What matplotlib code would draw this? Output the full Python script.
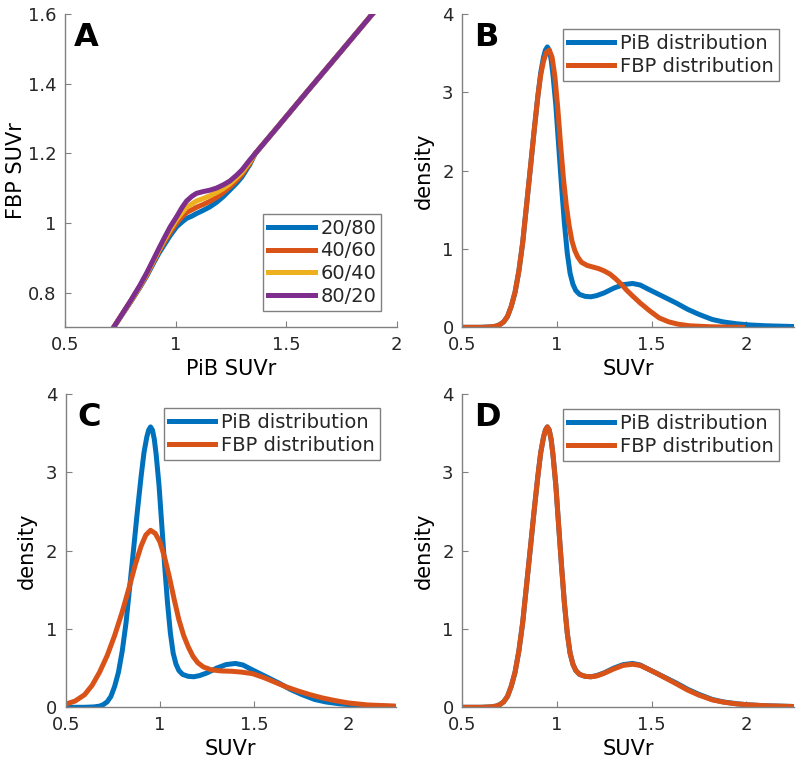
import numpy as np
import matplotlib
matplotlib.use("Agg")
import matplotlib.pyplot as plt

# --- Panel A: PiB -> FBP mapping curves for each mixing ratio ---
map_x = [0.72, 0.76, 0.80, 0.84, 0.87, 0.90, 0.925, 0.95, 0.975, 1.005, 1.03, 1.05, 1.075, 1.095,
         1.125, 1.155, 1.185, 1.215, 1.245, 1.276, 1.30, 1.336, 1.36, 1.45, 1.60, 1.75, 1.89]
map_20_80 = [0.70, 0.738, 0.776, 0.816, 0.848, 0.884, 0.913, 0.938, 0.963, 0.989, 1.003, 1.013,
             1.020, 1.027, 1.036, 1.046, 1.059, 1.075, 1.094, 1.114, 1.132, 1.168, 1.199,
             1.267, 1.381, 1.494, 1.60]
map_40_60 = [0.70, 0.739, 0.777, 0.818, 0.851, 0.888, 0.919, 0.946, 0.972, 1.000, 1.018, 1.030,
             1.038, 1.045, 1.053, 1.062, 1.073, 1.087, 1.103, 1.122, 1.139, 1.172, 1.199,
             1.267, 1.381, 1.494, 1.60]
map_60_40 = [0.70, 0.740, 0.778, 0.820, 0.854, 0.891, 0.923, 0.952, 0.980, 1.010, 1.030, 1.045,
             1.055, 1.063, 1.070, 1.078, 1.087, 1.098, 1.112, 1.130, 1.145, 1.176, 1.199,
             1.267, 1.381, 1.494, 1.60]
map_80_20 = [0.70, 0.740, 0.780, 0.822, 0.857, 0.895, 0.927, 0.958, 0.988, 1.018, 1.045, 1.063,
             1.077, 1.085, 1.090, 1.094, 1.100, 1.109, 1.120, 1.137, 1.152, 1.181, 1.199,
             1.267, 1.381, 1.494, 1.60]
map_labels = ['20/80', '40/60', '60/40', '80/20']

# --- Density curves ---
pib_x = [0.5, 0.6, 0.65, 0.68, 0.70, 0.72, 0.74, 0.76, 0.78, 0.80, 0.82, 0.84, 0.86, 0.88, 0.90,
         0.915, 0.93, 0.94, 0.95, 0.96, 0.97, 0.98, 0.995, 1.01, 1.025, 1.04, 1.055, 1.07, 1.085,
         1.10, 1.12, 1.15, 1.18, 1.21, 1.25, 1.30, 1.35, 1.40, 1.44, 1.48, 1.53, 1.58, 1.63,
         1.69, 1.75, 1.82, 1.88, 1.95, 2.02, 2.10, 2.25]
pib_y = [0.0, 0.0, 0.005, 0.015, 0.035, 0.07, 0.14, 0.27, 0.45, 0.72, 1.08, 1.55, 2.02, 2.50, 2.95,
         3.25, 3.45, 3.54, 3.58, 3.54, 3.42, 3.22, 2.83, 2.31, 1.80, 1.33, 0.95, 0.69, 0.55,
         0.47, 0.42, 0.395, 0.39, 0.405, 0.44, 0.50, 0.545, 0.56, 0.54, 0.49, 0.43, 0.37, 0.31,
         0.23, 0.165, 0.10, 0.068, 0.045, 0.03, 0.02, 0.01]

fbp_b_x = [0.5, 0.6, 0.65, 0.68, 0.70, 0.72, 0.74, 0.76, 0.78, 0.80, 0.82, 0.84, 0.86, 0.88, 0.90,
           0.915, 0.93, 0.945, 0.96, 0.975, 0.99, 1.005, 1.02, 1.035, 1.05, 1.065, 1.08, 1.095,
           1.11, 1.13, 1.16, 1.19, 1.22, 1.25, 1.28, 1.31, 1.34, 1.37, 1.40, 1.44, 1.49, 1.54,
           1.59, 1.64, 1.70, 1.80, 1.90, 1.98]
fbp_b_y = [0.0, 0.0, 0.005, 0.015, 0.035, 0.07, 0.14, 0.27, 0.45, 0.72, 1.08, 1.55, 2.02, 2.50, 2.95,
           3.22, 3.40, 3.51, 3.54, 3.45, 3.20, 2.80, 2.33, 1.90, 1.56, 1.30, 1.10, 0.98,
           0.90, 0.83, 0.79, 0.77, 0.75, 0.72, 0.68, 0.62, 0.55, 0.47, 0.40, 0.31, 0.21, 0.12,
           0.07, 0.04, 0.02, 0.008, 0.003, 0.0]

fbp_c_x = [0.5, 0.55, 0.60, 0.64, 0.68, 0.72, 0.76, 0.80, 0.84, 0.87, 0.90, 0.925, 0.95, 0.975,
           1.0, 1.025, 1.05, 1.075, 1.10, 1.125, 1.15, 1.175, 1.20, 1.23, 1.27, 1.32, 1.38, 1.43,
           1.49, 1.55, 1.61, 1.67, 1.73, 1.79, 1.86, 1.93, 2.0, 2.1, 2.25]
fbp_c_y = [0.04, 0.08, 0.16, 0.28, 0.45, 0.66, 0.92, 1.22, 1.56, 1.83, 2.06, 2.20, 2.26, 2.22,
           2.11, 1.91, 1.66, 1.38, 1.12, 0.92, 0.77, 0.65, 0.57, 0.515, 0.48, 0.465, 0.46, 0.45,
           0.43, 0.38, 0.32, 0.26, 0.21, 0.165, 0.12, 0.085, 0.055, 0.03, 0.015]

fbp_d_x = pib_x
fbp_d_y = [0.0, 0.0, 0.005, 0.015, 0.035, 0.07, 0.14, 0.27, 0.45, 0.72, 1.08, 1.55, 2.02, 2.50, 2.95,
           3.25, 3.45, 3.54, 3.58, 3.54, 3.42, 3.22, 2.83, 2.31, 1.80, 1.33, 0.95, 0.69, 0.55,
           0.47, 0.42, 0.395, 0.39, 0.40, 0.435, 0.49, 0.535, 0.55, 0.535, 0.49, 0.43, 0.365, 0.30,
           0.22, 0.155, 0.095, 0.065, 0.043, 0.03, 0.02, 0.01]

BLUE, ORANGE, YELLOW, PURPLE = '#0072BD', '#D95319', '#EDB120', '#7E2F8E'
LW = 3.6

plt.rcParams['font.family'] = ['DejaVu Sans']
plt.rcParams['text.color'] = '#262626'

fig = plt.figure(figsize=(8, 7.63), dpi=100)


def style_axes(ax):
    for side in ['top', 'right']:
        ax.spines[side].set_visible(False)
    for side in ['left', 'bottom']:
        ax.spines[side].set_color('#808080')
        ax.spines[side].set_linewidth(1.0)
    ax.tick_params(axis='both', direction='in', length=4, width=0.8, color='#808080',
                   labelsize=13, labelcolor='#262626', pad=6)


def add_legend(ax, loc, anchor):
    leg = ax.legend(loc=loc, bbox_to_anchor=anchor, borderaxespad=0, fontsize=14,
                    handlelength=2.4, handletextpad=0.3, borderpad=0.25, labelspacing=0.2,
                    fancybox=False, framealpha=1, edgecolor='#808080')
    leg.get_frame().set_linewidth(1.0)
    return leg


def density_panel(rect, fbp_x, fbp_y, letter, legend_anchor, ylab_x):
    ax = fig.add_axes(rect)
    ax.plot(pib_x, pib_y, color=BLUE, lw=LW, label='PiB distribution')
    ax.plot(fbp_x, fbp_y, color=ORANGE, lw=LW, label='FBP distribution')
    ax.set_xlim(0.5, 2.25)
    ax.set_ylim(0, 4)
    ax.set_xticks([0.5, 1, 1.5, 2])
    ax.set_xticklabels(['0.5', '1', '1.5', '2'])
    ax.set_yticks([0, 1, 2, 3, 4])
    ax.set_xlabel('SUVr', fontsize=15, labelpad=4)
    ax.set_ylabel('density', fontsize=15)
    ax.yaxis.set_label_coords(ylab_x, 0.5)
    style_axes(ax)
    ax.text(0.036, 0.975, letter, transform=ax.transAxes, fontsize=23, fontweight='bold',
            color='black', va='top', ha='left')
    add_legend(ax, 'upper right', legend_anchor)
    return ax


# Panel A
axA = fig.add_axes([0.08125, 0.571, 0.4146, 0.4106])
for ys, c, lab in zip([map_20_80, map_40_60, map_60_40, map_80_20],
                      [BLUE, ORANGE, YELLOW, PURPLE], map_labels):
    axA.plot(map_x, ys, color=c, lw=LW, label=lab)
axA.set_xlim(0.5, 2)
axA.set_ylim(0.7, 1.6)
axA.set_xticks([0.5, 1, 1.5, 2])
axA.set_xticklabels(['0.5', '1', '1.5', '2'])
axA.set_yticks([0.8, 1, 1.2, 1.4, 1.6])
axA.set_yticklabels(['0.8', '1', '1.2', '1.4', '1.6'])
axA.set_xlabel('PiB SUVr', fontsize=15, labelpad=4)
axA.set_ylabel('FBP SUVr', fontsize=15)
axA.yaxis.set_label_coords(-0.118, 0.5)
style_axes(axA)
axA.text(0.027, 0.975, 'A', transform=axA.transAxes, fontsize=23, fontweight='bold',
         color='black', va='top', ha='left')
add_legend(axA, 'lower right', (0.953, 0.052))

density_panel([0.5775, 0.571, 0.4148, 0.4106], fbp_b_x, fbp_b_y, 'B', (0.955, 0.952), -0.086)
density_panel([0.0821, 0.073, 0.4126, 0.4106], fbp_c_x, fbp_c_y, 'C', (0.952, 0.955), -0.088)
density_panel([0.5775, 0.073, 0.4148, 0.4106], fbp_d_x, fbp_d_y, 'D', (0.955, 0.952), -0.086)

fig.savefig('out.png', dpi=100, facecolor='white')
